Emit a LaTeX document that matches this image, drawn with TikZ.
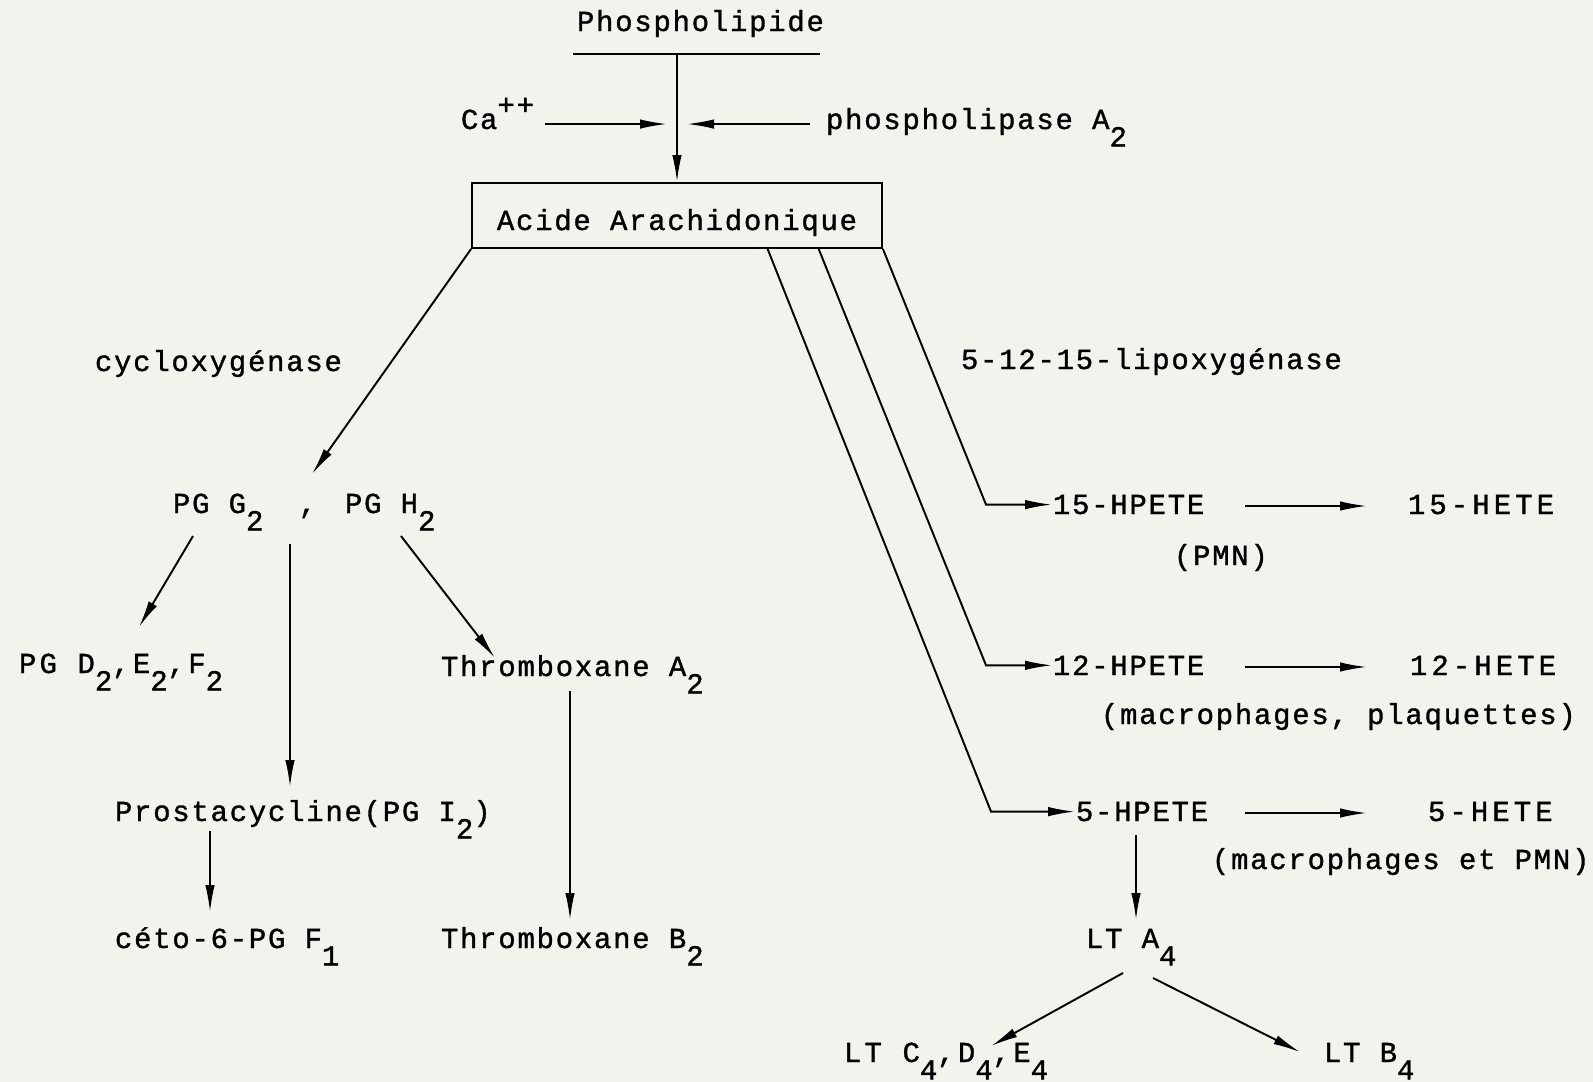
\documentclass[tikz,border=0pt]{standalone}
\usepackage{fontspec}
\usepackage{tikz}
\usetikzlibrary{arrows.meta,calc}
\newfontfamily\typew{Liberation Mono}[LetterSpace=6,FakeBold=1.2]
\newfontfamily\typewmid{Liberation Mono}[LetterSpace=11,FakeBold=1.2]
\newfontfamily\typewwide{Liberation Mono}[LetterSpace=14,FakeBold=1.2]
\newcommand\twsize{\fontsize{16.5}{19}\selectfont}
\newcommand\dn[1]{\raisebox{-0.6em}{#1}}
\newcommand\up[1]{\raisebox{0.5em}{#1}}
\definecolor{paper}{RGB}{243,243,238}
\tikzset{>={Latex[length=0.54cm,width=0.19cm]}}
\tikzset{tw/.style={font=\typew\twsize},
  txt/.style={tw, anchor=base west, inner sep=0pt},
  mid/.style={font=\typewmid\twsize},
  wide/.style={font=\typewwide\twsize},
  box/.style={tw, draw, inner sep=0pt, minimum width=8.2cm, minimum height=1.3cm, text height=0.58cm, text depth=0pt}}

\begin{document}
\begin{tikzpicture}[x=0.02cm, y=-0.02cm, line width=1.1pt]
  \fill[paper] (0,0) rectangle (1593,1082);
  \useasboundingbox (0,0) rectangle (1593,1082);
  % top
  \node[txt] (phos) at (576,31) {Phospholipide};
  \node[txt] (ca) at (460,129) {Ca\up{++}};
  \node[txt] (pla) at (825,129) {phospholipase A\dn{2}};
  \node[box] (aa) at (677,215.5) {Acide Arachidonique};
  \draw (phos.base west) ++(-3,23) -- ++(247,0);
  \draw[<-] (aa.north) -- ++(0,-129);
  \draw[->] (aa.north) ++(-132,-58) -- ++(122,0);
  \draw[->] (aa.north) ++(133,-58) -- ++(-123,0);
  % cycloxygenase
  \node[txt] (cyclo) at (94,371) {cycloxygénase};
  \node[txt] (pgg) at (172,513) {PG G\dn{2}};
  \node[txt] (comma) at (298,513) {,};
  \node[txt] (pgh) at (344,513) {PG H\dn{2}};
  \node[txt, mid] (pgdef) at (18,673) {PG D\dn{2},E\dn{2},F\dn{2}};
  \node[txt] (txa) at (440,676) {Thromboxane A\dn{2}};
  \node[txt] (prost) at (114,821) {Prostacycline(PG I\dn{2})};
  \node[txt] (ceto) at (114,948) {céto-6-PG F\dn{1}};
  \node[txt] (txb) at (440,948) {Thromboxane B\dn{2}};
  \draw[->] (aa.south west) -- ++(-159,225);
  \draw[->] (pgg.base west) ++(21,23) -- ++(-54,91);
  \draw[->] (comma.base west) ++(-8,31) -- ++(0,243);
  \draw[->] (pgh.base west) ++(57,23) -- ++(94,122);
  \draw[->] (txa.base west) ++(130,15) -- ++(0,229);
  \draw[->] (prost.base west) ++(96,10) -- ++(0,81);
  % lipoxygenase
  \node[txt] (lipo) at (960,369) {5-12-15-lipoxygénase};
  \node[txt] (hp15) at (1052,514) {15-HPETE};
  \node[txt, wide] (he15) at (1407,514) {15-HETE};
  \node[txt] (pmn) at (1173,565) {(PMN)};
  \node[txt] (hp12) at (1052,675) {12-HPETE};
  \node[txt, wide] (he12) at (1409,675) {12-HETE};
  \node[txt] (macpl) at (1100,724) {(macrophages, plaquettes)};
  \node[txt] (hp5) at (1075,821) {5-HPETE};
  \node[txt, wide] (he5) at (1427,821) {5-HETE};
  \node[txt] (macpmn) at (1211,869) {(macrophages et PMN)};
  \node[txt] (lta) at (1085,948) {LT A\dn{4}};
  \node[txt, mid] (ltc) at (843,1062) {LT C\dn{4},D\dn{4},E\dn{4}};
  \node[txt] (ltb) at (1323,1062) {LT B\dn{4}};
  \coordinate (lb) at (986,0);
  \coordinate (lb5) at (991,0);
  \coordinate (ax) at (1245,0);
  \draw[->] (aa.south east) -- (hp15.west -| lb) -- (hp15.west);
  \draw[->] ($(aa.south west)!0.844!(aa.south east)$) -- (hp12.west -| lb) -- (hp12.west);
  \draw[->] ($(aa.south west)!0.72!(aa.south east)$) -- (hp5.west -| lb5) -- (hp5.west);
  \foreach \n in {15,12,5}
    \draw[->] (ax |- hp\n.base) ++(0,-8) -- ++(122,0);
  \draw[->] (hp5.base west) ++(61,14) -- ++(0,85);
  \draw[->] (lta.base west) ++(38,25) -- ++(-132,73);
  \draw[->] (lta.base west) ++(68,30) -- ++(147,74);
\end{tikzpicture}
\end{document}
